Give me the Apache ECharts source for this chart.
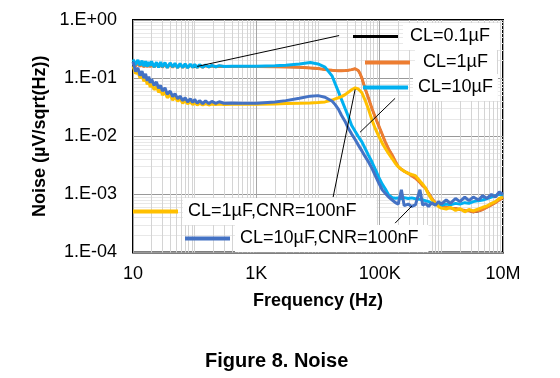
<!DOCTYPE html>
<html><head><meta charset="utf-8">
<script src="https://cdn.jsdelivr.net/npm/echarts@6/dist/echarts.min.js"></script>
<style>html,body{margin:0;padding:0;background:#fff}#c{width:560px;height:378px}</style>
</head><body><div id="c"></div>
<script>
// Frequency points (Hz)
const frequencies = [10,11,12,13,14,15,16,17,18,19,20,22,24,26,28,30,33,36,40,44,48,53,58,64,70,77,85,93,100,110,120,135,150,170,190,220,250,300,
  400,600,1000,2000,3000,5000,7500,10000,13000,17000,19000,21500,24000,27500,31000,35000,40000,45000,48000,51500,58000,66000,75000,85000,96000,110000,123000,140000,
  160000,180000,200000,225000,250000,290000,330000,380000,450000,500000,550000,620000,700000,800000,900000,1e6,1.2e6,1.4e6,1.7e6,2e6,2.4e6,2.8e6,3.3e6,4e6,4.7e6,5.5e6,6.5e6,7.5e6,8.7e6,1e7];

// Noise (µV/sqrt(Hz)) per curve
const noiseCL01uF = [0.175,0.16,0.185,0.158,0.18,0.156,0.18,0.157,0.18,0.156,0.176,0.155,0.176,0.154,0.174,0.154,0.172,0.153,0.171,0.154,0.17,0.153,0.169,0.154,0.168,0.154,0.166,0.155,0.165,0.155,0.164,0.156,0.163,0.156,0.162,0.157,0.16,0.158,
  0.159,0.158,0.158,0.157,0.156,0.154,0.15,0.146,0.14,0.136,0.135,0.134,0.134,0.135,0.137,0.14,0.145,0.135,0.12,0.1,0.066,0.045,0.03,0.021,0.0154,0.0108,0.008,0.006,
  0.0047,0.0037,0.003,0.0027,0.0025,0.0023,0.0021,0.0019,0.0016,0.0014,0.0013,0.00105,0.00085,0.00072,0.00066,0.00062,0.0006,0.00058,0.00057,0.00055,0.00053,0.00052,0.00049,0.00051,0.00055,0.0006,0.00066,0.00072,0.0008,0.00088];
const noiseCL1uF = [0.18,0.16,0.19,0.158,0.185,0.155,0.183,0.156,0.185,0.155,0.18,0.154,0.18,0.153,0.178,0.153,0.176,0.152,0.175,0.153,0.173,0.152,0.172,0.153,0.17,0.153,0.168,0.154,0.167,0.154,0.166,0.155,0.164,0.156,0.163,0.157,0.161,0.158,
  0.159,0.158,0.158,0.157,0.156,0.154,0.15,0.146,0.14,0.136,0.135,0.134,0.134,0.135,0.137,0.14,0.145,0.135,0.12,0.1,0.066,0.045,0.03,0.021,0.0154,0.0108,0.008,0.006,
  0.0047,0.0037,0.003,0.0027,0.0025,0.0023,0.0021,0.0019,0.0016,0.0014,0.0013,0.00105,0.00085,0.00072,0.00066,0.00062,0.0006,0.00058,0.00057,0.00055,0.00053,0.00052,0.0005,0.00052,0.00055,0.0006,0.00066,0.00072,0.0008,0.00088];
const noiseCL10uF = [0.21,0.17,0.205,0.165,0.2,0.16,0.195,0.158,0.19,0.162,0.195,0.155,0.188,0.152,0.19,0.155,0.185,0.15,0.183,0.155,0.18,0.15,0.178,0.152,0.176,0.15,0.175,0.153,0.172,0.152,0.17,0.154,0.168,0.155,0.166,0.156,0.164,0.158,
  0.16,0.16,0.16,0.163,0.167,0.175,0.185,0.175,0.155,0.108,0.08,0.058,0.043,0.03,0.022,0.0155,0.0122,0.0099,0.0089,0.008,0.0062,0.0047,0.0036,0.0027,0.002,0.0015,0.00125,0.00098,
  0.00088,0.00086,0.00087,0.00085,0.00088,0.00085,0.00087,0.00084,0.00082,0.0008,0.00078,0.00075,0.0007,0.00068,0.00066,0.00065,0.00068,0.00066,0.0007,0.00068,0.00072,0.0007,0.00075,0.00078,0.0008,0.00085,0.0009,0.00095,0.001,0.00095];
const noiseCL1uFCNR = [0.16,0.12,0.13,0.1,0.112,0.088,0.1,0.078,0.09,0.07,0.08,0.063,0.072,0.057,0.064,0.051,0.058,0.046,0.052,0.042,0.047,0.04,0.044,0.037,0.041,0.036,0.039,0.035,0.038,0.0345,0.037,0.0345,0.0365,0.0345,0.036,0.035,0.0358,0.035,
  0.0355,0.0355,0.0355,0.036,0.0365,0.037,0.0375,0.038,0.039,0.042,0.044,0.046,0.048,0.052,0.057,0.063,0.068,0.065,0.061,0.056,0.042,0.029,0.019,0.0135,0.0102,0.0076,0.0062,0.005,
  0.0041,0.0034,0.003,0.0027,0.0025,0.0023,0.0022,0.0021,0.0017,0.0015,0.0013,0.001,0.00082,0.0007,0.00062,0.00058,0.00056,0.0006,0.00053,0.00057,0.0005,0.00055,0.00052,0.00056,0.0006,0.00063,0.0007,0.00075,0.00085,0.0009];
const noiseCL10uFCNR = [0.19,0.13,0.15,0.11,0.132,0.1,0.118,0.09,0.106,0.083,0.096,0.075,0.086,0.067,0.075,0.06,0.068,0.053,0.06,0.048,0.054,0.044,0.049,0.041,0.046,0.039,0.044,0.038,0.043,0.037,0.041,0.0365,0.0405,0.0365,0.0398,0.0368,0.0392,0.037,
  0.0375,0.037,0.037,0.039,0.041,0.045,0.049,0.05,0.047,0.04,0.035,0.029,0.023,0.018,0.0137,0.011,0.0088,0.0071,0.0063,0.0056,0.0045,0.0036,0.0028,0.0021,0.0016,0.0012,0.00105,0.0009,
  0.0008,0.00072,0.00068,0.0012,0.00064,0.00068,0.00062,0.00066,0.0012,0.00065,0.0007,0.00062,0.00072,0.00065,0.00075,0.00068,0.0008,0.0007,0.00085,0.00075,0.0009,0.00078,0.0009,0.0008,0.00095,0.00085,0.001,0.0009,0.0011,0.001];

const seriesNames = ['CL=0.1µF','CL=1µF','CL=10µF','CL=1µF,CNR=100nF','CL=10µF,CNR=100nF'];
const seriesValues = [noiseCL01uF, noiseCL1uF, noiseCL10uF, noiseCL1uFCNR, noiseCL10uFCNR];
const seriesColors = ['#000000','#ED7D31','#00B0F0','#FFC000','#4472C4'];

const xTickValues = [10, 1000, 100000, 10000000];
const xTickLabels = ['10','1K','100K','10M'];
const yTickValues = [1e-4, 1e-3, 1e-2, 1e-1, 1];
const yTickLabels = ['1.E-04','1.E-03','1.E-02','1.E-01','1.E+00'];

// leader lines (data-space endpoints)
const leaderLines = [
  [[110, 0.159], [22000, 0.54]],
  [[178000, 0.0449], [48000, 0.0117]],
  [[40000, 0.064], [17600, 0.0009]],
  [[178000, 0.00032], [333000, 0.00063]]
];

const FONT = 'Arial, "Liberation Sans", sans-serif';
function pickLabel(vals, labels, v) {
  for (let i = 0; i < vals.length; i++) {
    if (Math.abs(Math.log10(v) - Math.log10(vals[i])) < 1e-6) return labels[i];
  }
  return '';
}

const chart = echarts.init(document.getElementById('c'), null, {renderer: 'canvas'});

const series = seriesNames.map((name, k) => ({
  name: name,
  type: 'line',
  showSymbol: false,
  symbol: 'none',
  data: frequencies.map((f, i) => [f, seriesValues[k][i]]),
  lineStyle: {color: seriesColors[k], width: k === 0 ? 2 : 3},
  itemStyle: {color: seriesColors[k]},
  animation: false,
  silent: true
}));
series[4].markLine = {
  silent: true,
  symbol: ['none','none'],
  label: {show: false},
  lineStyle: {color: '#000', width: 1, type: 'solid'},
  emphasis: {disabled: true},
  animation: false,
  data: leaderLines.map(p => [{coord: p[0]}, {coord: p[1]}])
};

const legendPos = [
  {left: 353, top: 23, pad: [4, 10, 4, 7], h: 3},
  {left: 365, top: 49, pad: [4, 9, 4, 8], h: 4},
  {left: 363, top: 74, pad: [4, 5, 4, 5], h: 4},
  {left: 133, top: 198, pad: [4, 20, 4, 5], h: 4},
  {left: 185, top: 225, pad: [4, 10, 4, 5], h: 4}
];
const legends = seriesNames.map((name, k) => ({
  data: [name],
  left: legendPos[k].left,
  top: legendPos[k].top,
  orient: 'horizontal',
  padding: 0,
  icon: 'rect',
  itemWidth: 45,
  itemHeight: legendPos[k].h,
  selectedMode: false,
  textStyle: {
    fontFamily: FONT, fontSize: 18, color: '#000',
    backgroundColor: '#fff', padding: legendPos[k].pad, lineHeight: 19
  }
}));

chart.setOption({
  animation: false,
  backgroundColor: '#fff',
  title: {
    text: 'Figure 8. Noise', left: 205, top: 351, padding: 0,
    textStyle: {fontFamily: FONT, fontSize: 20, fontWeight: 'bold', color: '#000'}
  },
  legend: legends,
  grid: {
    left: 133, right: 57, top: 20, bottom: 125.5,
    show: true, borderColor: '#000', borderWidth: 2, backgroundColor: 'transparent',
    containLabel: false, outerBoundsMode: 'none'
  },
  xAxis: {
    type: 'log', logBase: 10, min: 10, max: 1e7, splitNumber: 6,
    name: 'Frequency (Hz)', nameLocation: 'middle', nameGap: 40,
    nameTextStyle: {fontFamily: FONT, fontSize: 18, fontWeight: 'bold', color: '#000'},
    axisLine: {show: false}, axisTick: {show: false},
    axisLabel: {
      fontFamily: FONT, fontSize: 18, color: '#000', margin: 13, showMinLabel: true, showMaxLabel: true,
      formatter: v => pickLabel(xTickValues, xTickLabels, v)
    },
    splitLine: {show: true, lineStyle: {color: ['#A6A6A6', '#D4D4D4'], width: 1}},
    minorTick: {show: false, splitNumber: 9},
    minorSplitLine: {show: true, lineStyle: {color: '#D4D4D4', width: 1}}
  },
  yAxis: {
    type: 'log', logBase: 10, min: 1e-4, max: 1, splitNumber: 4,
    name: 'Noise (µV/sqrt(Hz))', nameLocation: 'middle', nameGap: 81, nameRotate: 90,
    nameTextStyle: {fontFamily: FONT, fontSize: 18, fontWeight: 'bold', color: '#000'},
    axisLine: {show: false}, axisTick: {show: false},
    axisLabel: {
      fontFamily: FONT, fontSize: 18, color: '#000', margin: 16, align: 'right',
      formatter: v => pickLabel(yTickValues, yTickLabels, v)
    },
    splitLine: {show: true, lineStyle: {color: '#999999', width: 1}},
    minorTick: {show: false, splitNumber: 9},
    minorSplitLine: {show: true, lineStyle: {color: '#E8E8E8', width: 1}}
  },
  series: series
});
</script></body></html>
